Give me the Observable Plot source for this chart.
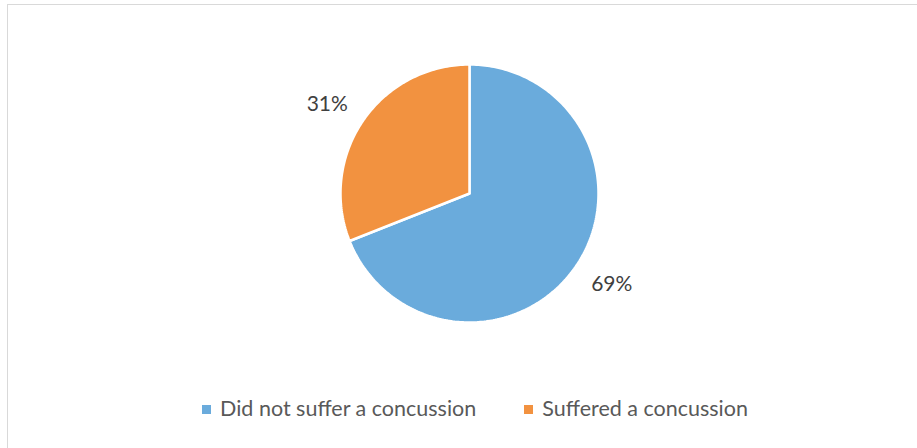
<!DOCTYPE html>
<html>
<head>
<meta charset="utf-8">
<script src="https://cdn.jsdelivr.net/npm/d3@7"></script>
<script src="https://cdn.jsdelivr.net/npm/@observablehq/plot@0.6"></script>
<style>
  html, body { margin: 0; padding: 0; background: #fff; }
  #wrap { position: relative; width: 917px; height: 448px; overflow: hidden; font-family: Lato, "Open Sans", sans-serif; }
  #border { position: absolute; left: 7px; top: 4px; width: 940px; height: 470px; border: 1.5px solid #d9d9d9; box-sizing: border-box; }
  #chart { position: absolute; left: 0; top: 0; }
  #legend { position: absolute; left: 0; top: 390px; width: 950px; height: 36px; display: flex; justify-content: center; align-items: center; color: #595959; font-size: 21.5px; }
  .item { display: flex; align-items: center; margin: 0 24px; }
  .sw { width: 9px; height: 9px; margin-right: 9px; margin-top: 2px; }
</style>
</head>
<body>
<div id="wrap">
  <div id="border"></div>
  <div id="chart"></div>
  <div id="legend"></div>
</div>
<script>
const categories = ["Did not suffer a concussion", "Suffered a concussion"];
const values = [69, 31];
const labels = ["69%", "31%"];
const colors = ["#6aabdc", "#f29240"];

const W = 917, H = 390;
const cx = 469, cy = 193, R = 129;

// pie angles (clockwise from 12 o'clock)
const pie = d3.pie().sort(null).value(d => d.value)(categories.map((c, i) => ({key: c, value: values[i], label: labels[i]})));

const polys = [];
for (const s of pie) {
  const n = Math.max(4, Math.ceil((s.endAngle - s.startAngle) / (Math.PI * 2) * 360));
  polys.push({key: s.data.key, x: 0, y: 0});
  for (let k = 0; k <= n; k++) {
    const a = s.startAngle + (s.endAngle - s.startAngle) * k / n;
    polys.push({key: s.data.key, x: Math.sin(a), y: Math.cos(a)});
  }
  polys.push({key: s.data.key, x: 0, y: 0});
}
const labelPts = pie.map(s => {
  const a = (s.startAngle + s.endAngle) / 2;
  return {text: s.data.label, x: 1.14 * Math.sin(a), y: 1.14 * Math.cos(a)};
});
const textOpts = {x: "x", y: "y", text: "text", fill: "#404040", fontSize: 21};

const chart = Plot.plot({
  width: W, height: H,
  margin: 0,
  x: {domain: [-cx / R, (W - cx) / R], axis: null},
  y: {domain: [-(H - cy) / R, cy / R], axis: null},
  color: {domain: categories, range: colors},
  style: {background: "transparent", fontFamily: "Lato, 'Open Sans', sans-serif"},
  marks: [
    Plot.line(polys, {x: "x", y: "y", z: "key", fill: "key", stroke: "white", strokeWidth: 2.5, strokeLinejoin: "miter", curve: "linear"}),
    Plot.text(labelPts, {...textOpts, filter: d => d.x < 0 && d.y > 0, textAnchor: "end", lineAnchor: "bottom"}),
    Plot.text(labelPts, {...textOpts, filter: d => d.x >= 0 && d.y <= 0, textAnchor: "start", lineAnchor: "top"}),
    Plot.text(labelPts, {...textOpts, filter: d => d.x < 0 && d.y <= 0, textAnchor: "end", lineAnchor: "top"}),
    Plot.text(labelPts, {...textOpts, filter: d => d.x >= 0 && d.y > 0, textAnchor: "start", lineAnchor: "bottom"})
  ]
});
document.getElementById("chart").appendChild(chart);

const leg = document.getElementById("legend");
categories.forEach((c, i) => {
  const it = document.createElement("div");
  it.className = "item";
  const sw = document.createElement("div");
  sw.className = "sw";
  sw.style.background = colors[i];
  const t = document.createElement("span");
  t.textContent = c;
  it.appendChild(sw); it.appendChild(t);
  leg.appendChild(it);
});
</script>
</body>
</html>
